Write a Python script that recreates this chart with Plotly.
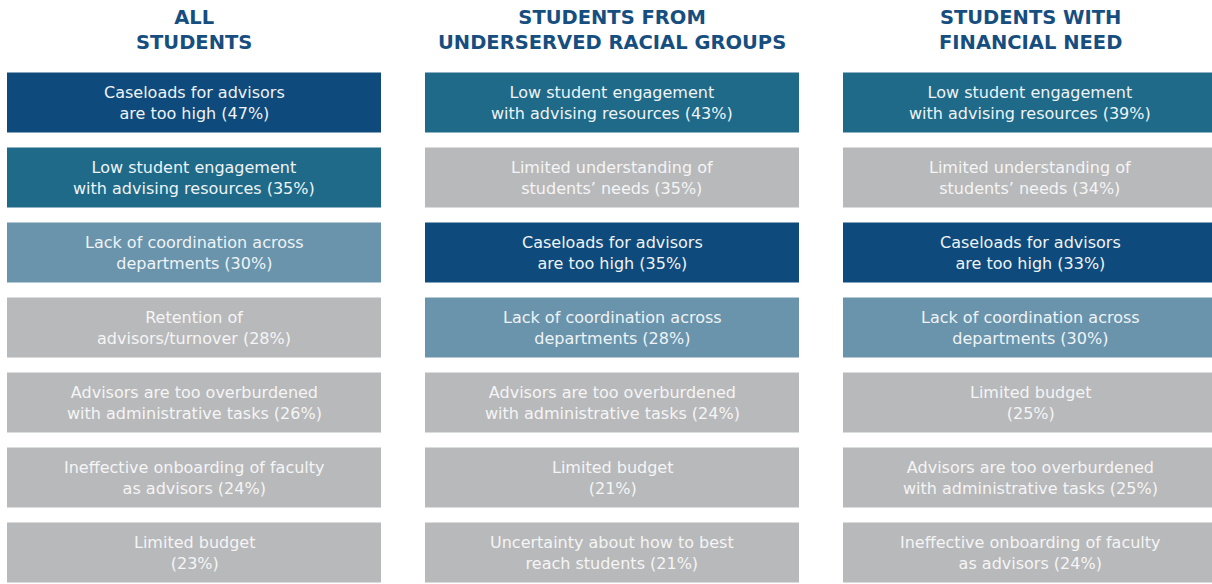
import plotly.graph_objects as go

# ---- data ----
group_titles = ["ALL<br>STUDENTS",
                "STUDENTS FROM<br>UNDERSERVED RACIAL GROUPS",
                "STUDENTS WITH<br>FINANCIAL NEED"]

all_labels = ["Caseloads for advisors<br>are too high",
              "Low student engagement<br>with advising resources",
              "Lack of coordination across<br>departments",
              "Retention of<br>advisors/turnover",
              "Advisors are too overburdened<br>with administrative tasks",
              "Ineffective onboarding of faculty<br>as advisors",
              "Limited budget<br>"]
all_values = [47, 35, 30, 28, 26, 24, 23]

urg_labels = ["Low student engagement<br>with advising resources",
              "Limited understanding of<br>students’ needs",
              "Caseloads for advisors<br>are too high",
              "Lack of coordination across<br>departments",
              "Advisors are too overburdened<br>with administrative tasks",
              "Limited budget<br>",
              "Uncertainty about how to best<br>reach students"]
urg_values = [43, 35, 35, 28, 24, 21, 21]

fin_labels = ["Low student engagement<br>with advising resources",
              "Limited understanding of<br>students’ needs",
              "Caseloads for advisors<br>are too high",
              "Lack of coordination across<br>departments",
              "Limited budget<br>",
              "Advisors are too overburdened<br>with administrative tasks",
              "Ineffective onboarding of faculty<br>as advisors"]
fin_values = [39, 34, 33, 30, 25, 25, 24]

ranks = [1, 2, 3, 4, 5, 6, 7]

# ---- styling ----
highlight = {
    "Caseloads for advisors<br>are too high": "#0E4A7B",
    "Low student engagement<br>with advising resources": "#1E6A88",
    "Lack of coordination across<br>departments": "#6A93AC",
}
GRAY = "#B8B9BB"
TITLE_COLOR = "#174E80"
BODY_FONT = "DejaVu Sans"
TITLE_FONT = "DejaVu Sans"

W, H = 1212, 584

col_starts = [7, 425, 843]
box_w = 374
row_top0, pitch, box_h = 72.5, 75, 60
r_top = 1 - (row_top0 + box_h / 2) / pitch
r_bot = 1 + (H - row_top0 - box_h / 2) / pitch

fig = go.Figure()
annotations = []

columns = [(all_labels, all_values), (urg_labels, urg_values), (fin_labels, fin_values)]
for ci, (labels, values) in enumerate(columns):
    colors = [highlight.get(l, GRAY) for l in labels]
    fig.add_trace(go.Bar(
        orientation="h",
        y=ranks,
        x=[box_w] * len(ranks),
        base=[col_starts[ci]] * len(ranks),
        width=box_h / pitch,
        marker=dict(color=colors, line=dict(width=0)),
        hoverinfo="skip",
        showlegend=False,
    ))
    cx = col_starts[ci] + box_w / 2
    for r, l, v in zip(ranks, labels, values):
        sep = "" if l.endswith("<br>") else " "
        txt_color = "#F5F5F5" if l not in highlight else "#EEF3F7"
        annotations.append(dict(
            x=cx, y=r, xref="x", yref="y",
            text=f"{l}{sep}({v}%)",
            showarrow=False,
            font=dict(family=BODY_FONT, size=16, color=txt_color),
            xanchor="center", yanchor="middle",
        ))
    annotations.append(dict(
        x=cx, y=1 - 30 / H, xref="x", yref="paper",
        text=f"<b>{group_titles[ci]}</b>",
        showarrow=False,
        font=dict(family=TITLE_FONT, size=19.5, color=TITLE_COLOR),
        xanchor="center", yanchor="middle",
    ))

fig.update_layout(
    width=W, height=H,
    margin=dict(l=0, r=0, t=0, b=0),
    paper_bgcolor="white", plot_bgcolor="white",
    barmode="overlay",
    annotations=annotations,
    xaxis=dict(range=[0, W], visible=False, fixedrange=True),
    yaxis=dict(range=[r_bot, r_top], visible=False, fixedrange=True),
)

fig.write_html(
    "out.html",
    config={"displayModeBar": False},
    post_script=("document.body.style.margin='0';"
                 "document.body.style.overflow='hidden';"
                 "document.documentElement.style.overflow='hidden';"),
)
